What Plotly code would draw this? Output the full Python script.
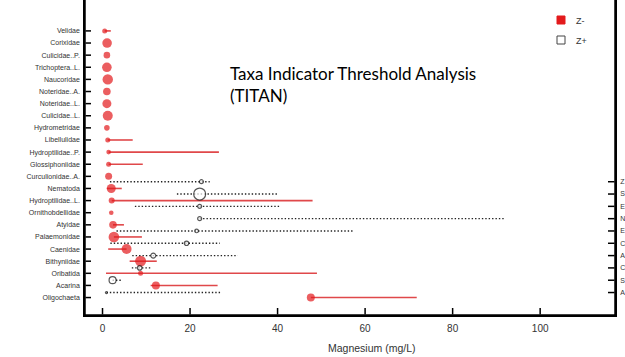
import plotly.graph_objects as go

# ---- data (z- taxa, left axis, top to bottom) ----
taxa_minus = ["Velidae", "Corixidae", "Culicidae..P.", "Trichoptera..L.", "Naucoridae",
              "Noteridae..A.", "Noteridae..L.", "Culicidae..L.", "Hydrometridae",
              "Libellulidae", "Hydroptilidae..P.", "Glossiphoniidae", "Curculionidae..A.",
              "Nematoda", "Hydroptilidae..L.", "Ornithobdellidae", "Atyidae", "Palaemonidae",
              "Caenidae", "Bithyniidae", "Oribatida", "Acarina", "Oligochaeta"]
cp_minus = [0.5, 1.05, 1.0, 1.0, 1.2, 1.0, 1.0, 1.2, 1.0, 1.2, 1.4, 1.4, 1.4,
            2.0, 2.1, 2.0, 2.4, 2.6, 5.5, 8.7, 8.7, 12.2, 47.6]
lo_minus = [0.5, 1.05, 1.0, 1.0, 1.2, 1.0, 1.0, 1.2, 1.0, 1.2, 1.4, 1.4, 1.4,
            1.0, 2.1, 2.0, 2.4, 2.6, 1.3, 6.2, 0.8, 11.0, 47.6]
hi_minus = [1.9, 1.05, 1.0, 1.0, 1.2, 1.0, 1.0, 1.2, 1.0, 6.9, 26.6, 9.2, 1.4,
            4.4, 48.0, 2.0, 4.9, 9.0, 5.5, 12.4, 49.0, 26.3, 71.8]
z_minus = [2.5, 4.8, 3.3, 4.8, 5.2, 3.8, 4.5, 5.0, 2.8, 2.5, 2.3, 2.5, 3.5,
           4.5, 3.0, 2.3, 3.8, 5.3, 5.0, 5.5, 2.5, 4.0, 4.0]

# ---- data (z+ taxa, right axis, top to bottom) ----
taxa_plus = ["Z", "S", "E", "N", "E", "C", "A", "C", "S", "A"]
cp_plus = [22.6, 22.2, 22.2, 22.2, 21.5, 19.2, 11.6, 8.5, 2.3, 0.9]
lo_plus = [1.7, 17.0, 7.4, 22.2, 3.2, 1.8, 6.8, 6.7, 2.3, 0.9]
hi_plus = [24.5, 40.0, 40.7, 92.0, 57.2, 26.8, 30.9, 11.2, 4.6, 27.2]
z_plus = [2.0, 6.0, 2.0, 2.0, 1.8, 2.2, 2.5, 2.2, 3.5, 1.0]

x_ticks = [0, 20, 40, 60, 80, 100]

RED = "#E31A1C"
RED_LINE = "#E0484A"
INK = "#000000"
LABEL = "#333333"

n_m = len(taxa_minus)
rows_m = [n_m - 1 - i for i in range(n_m)]
n_p = len(taxa_plus)
rows_p = [n_p - 1 - i for i in range(n_p)]

X_RANGE = [-4.0, 117.1]
Y_RANGE = [-1.44, 24.55]
Y2_RANGE = [-1.825, 23.76]

W, H = 625, 357
ml, mr, mt, mb = 85, 10, 0, 42
pw, ph = W - ml - mr, H - mt - mb
ux = (X_RANGE[1] - X_RANGE[0]) / pw      # x data units per pixel
uy = (Y_RANGE[1] - Y_RANGE[0]) / ph      # y data units per pixel

def seg(lo, hi, rows):
    xs, ys = [], []
    for a, b, r in zip(lo, hi, rows):
        xs += [a, b, None]
        ys += [r, r, None]
    return xs, ys

fig = go.Figure()

xs, ys = seg(lo_minus, hi_minus, rows_m)
fig.add_trace(go.Scatter(x=xs, y=ys, mode="lines", line=dict(color=RED_LINE, width=1.6),
                         hoverinfo="skip", showlegend=False))
fig.add_trace(go.Scatter(x=cp_minus, y=rows_m, mode="markers",
                         marker=dict(color=RED, size=[2 * z for z in z_minus], line=dict(width=0)),
                         showlegend=False))

xs, ys = seg(lo_plus, hi_plus, rows_p)
fig.add_trace(go.Scatter(x=xs, y=ys, mode="lines", yaxis="y2",
                         line=dict(color="#222222", width=1.4, dash="1.4px,2px"),
                         hoverinfo="skip", showlegend=False))
fig.add_trace(go.Scatter(x=cp_plus, y=rows_p, mode="markers", yaxis="y2",
                         marker=dict(color="white", size=[2 * z for z in z_plus],
                                     line=dict(color="#111111", width=1.2)),
                         showlegend=False))

# ---- tick marks (line traces on the axes' own scales) ----
x0, x1 = X_RANGE
y0, y1 = Y_RANGE
tx, ty = [], []
for v in x_ticks:
    tx += [v, v, None]
    ty += [y0 + 0.5 * uy, y0 + 7 * uy, None]
for r in rows_m:
    tx += [x0 + 0.5 * ux, x0 + 6 * ux, None]
    ty += [r, r, None]
fig.add_trace(go.Scatter(x=tx, y=ty, mode="lines", line=dict(color=INK, width=1.5),
                         hoverinfo="skip", showlegend=False))
rx, ry = [], []
for r in rows_p:
    rx += [x1 - 7 * ux, x1 - 0.5 * ux, None]
    ry += [r, r, None]
fig.add_trace(go.Scatter(x=rx, y=ry, mode="lines", yaxis="y2", line=dict(color=INK, width=1.5),
                         hoverinfo="skip", showlegend=False))

def px(xp):
    return (xp - ml) / pw

def py(yp):
    return (H - mb - yp) / ph

axis_font = dict(family="Liberation Sans, Arial, sans-serif", size=7, color=LABEL)
line_kw = dict(showline=True, linecolor=INK, linewidth=1.5, mirror=False)

fig.update_layout(
    width=W, height=H,
    margin=dict(l=ml, r=mr, t=mt, b=mb, pad=0),
    paper_bgcolor="white", plot_bgcolor="white",
    xaxis=dict(range=X_RANGE, tickvals=x_ticks, ticks="outside", ticklen=3, tickcolor="white",
               showgrid=False, zeroline=False, **line_kw,
               tickfont=dict(family="Liberation Sans, Arial, sans-serif", size=10, color=LABEL)),
    yaxis=dict(range=Y_RANGE, tickvals=rows_m, ticktext=taxa_minus, ticks="outside", ticklen=2,
               tickcolor="white", showgrid=False, zeroline=False, tickfont=axis_font, **line_kw),
    yaxis2=dict(range=Y2_RANGE, tickvals=rows_p, ticktext=taxa_plus, ticks="outside", ticklen=2,
                tickcolor="white", showgrid=False, zeroline=False, overlaying="y", side="right",
                tickfont=axis_font, **line_kw),
    showlegend=False,
)

# frame as paper shapes, too
for a, b, c, d in [(0, 1, 0, 0), (0, 0, 0, 1), (1, 1, 0, 1)]:
    fig.add_shape(type="line", xref="paper", yref="paper", x0=a, x1=b, y0=c, y1=d,
                  line=dict(color=INK, width=1.5))

# axis title
fig.add_annotation(text="Magnesium (mg/L)", xref="paper", yref="paper",
                   x=px(371.5), y=py(348), xanchor="center", yanchor="middle", showarrow=False,
                   font=dict(family="Liberation Sans, Arial, sans-serif", size=10.5, color=LABEL))

# slide title
fig.add_annotation(text="Taxa Indicator Threshold Analysis<br>(TITAN)", xref="paper", yref="paper",
                   x=px(228), y=py(84), xanchor="left", yanchor="middle", align="left",
                   showarrow=False, font=dict(family="Lato, Open Sans, sans-serif", size=17, color="black"))

# legend
for yc, fill, lab in [(20, RED, "Z-"), (40, "white", "Z+")]:
    fig.add_shape(type="rect", xref="paper", yref="paper", xsizemode="pixel", ysizemode="pixel",
                  xanchor=px(561), yanchor=py(yc), x0=-4, x1=4, y0=-4, y1=4,
                  fillcolor=fill, line=dict(color=RED if fill == RED else "#444", width=1))
    fig.add_annotation(text=lab, xref="paper", yref="paper", x=px(574), y=py(yc + 1),
                       xanchor="left", yanchor="middle", showarrow=False,
                       font=dict(family="Liberation Sans, Arial, sans-serif", size=9, color=LABEL))

fig.write_html("out.html")
